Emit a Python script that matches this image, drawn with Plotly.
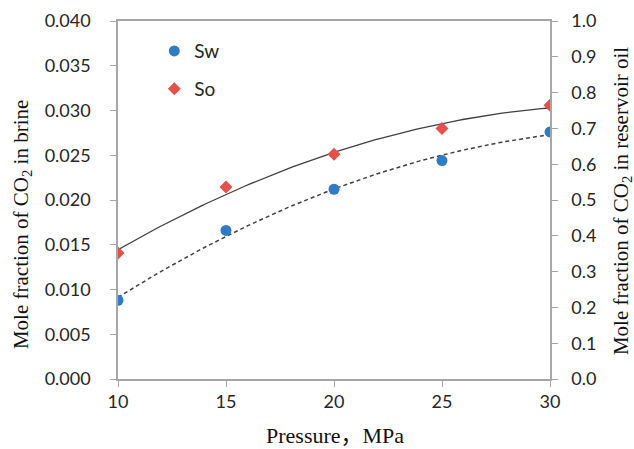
import numpy as np
import plotly.graph_objects as go

pressure = [10, 15, 20, 25, 30]
sw = [0.0088, 0.0166, 0.0212, 0.0244, 0.0276]
so = [0.352, 0.536, 0.628, 0.700, 0.765]

x_ticks = [10, 15, 20, 25, 30]

blue = "#2F7CC4"
red = "#E4504A"
axis_col = "#A6A6A6"
tick_font = dict(family="Lato, Open Sans, sans-serif", size=18, color="#262626")
serif = "Liberation Serif, Times New Roman, Noto Sans CJK SC, serif"

# quadratic trendlines (as in the original spreadsheet chart)
xf = np.linspace(min(pressure), max(pressure), 100)
sw_fit = np.polyval(np.polyfit(pressure, sw, 2), xf)
so_fit = np.polyval(np.polyfit(pressure, so, 2), xf)

fig = go.Figure()
fig.add_trace(go.Scatter(x=xf, y=sw_fit, mode="lines", showlegend=False,
                         line=dict(color="#404040", width=1.5, dash="4px,3px"),
                         hoverinfo="skip"))
fig.add_trace(go.Scatter(x=xf, y=so_fit, mode="lines", showlegend=False, yaxis="y2",
                         line=dict(color="#404040", width=1.3),
                         hoverinfo="skip"))
fig.add_trace(go.Scatter(x=pressure, y=sw, mode="markers", name="Sw",
                         marker=dict(color=blue, size=11, symbol="circle"),
                         legendgroup="a"))
fig.add_trace(go.Scatter(x=pressure, y=so, mode="markers", name="So", yaxis="y2",
                         marker=dict(color=red, size=10, symbol="diamond"),
                         legendgroup="b"))

fig.update_layout(
    width=634, height=449,
    margin=dict(l=118, r=84, t=21, b=70),
    paper_bgcolor="white", plot_bgcolor="white",
    showlegend=True,
    legend=dict(x=0.084, y=0.969, xanchor="left", yanchor="top",
                font=dict(family="Lato, Open Sans, sans-serif", size=19, color="#262626"),
                bgcolor="rgba(0,0,0,0)", tracegroupgap=10, itemwidth=30),
    xaxis=dict(range=[10, 30], tickvals=x_ticks, ticktext=[str(v) for v in x_ticks],
               showline=True, linecolor=axis_col, linewidth=1.5, mirror=True,
               ticks="outside", ticklen=6, tickcolor=axis_col, showgrid=False, zeroline=False,
               tickfont=tick_font, automargin=False),
    yaxis=dict(range=[0, 0.04], dtick=0.005, tickformat=".3f",
               showline=True, linecolor=axis_col, linewidth=1.5,
               ticks="outside", ticklen=6, tickcolor=axis_col, showgrid=False, zeroline=False,
               tickfont=tick_font, ticklabelstandoff=16, automargin=False),
    yaxis2=dict(range=[0, 1.0], dtick=0.1, tickformat=".1f", overlaying="y", side="right",
                showline=True, linecolor=axis_col, linewidth=1.5,
                ticks="outside", ticklen=6, tickcolor=axis_col, showgrid=False, zeroline=False,
                tickfont=tick_font, ticklabelstandoff=10, automargin=False),
    annotations=[
        dict(text="Mole fraction of CO<sub>2</sub> in brine", xref="paper", yref="paper",
             x=-0.2222, y=0.43, textangle=-90, showarrow=False, xanchor="center", yanchor="middle",
             font=dict(family=serif, size=21, color="#111111")),
        dict(text="Mole fraction of CO<sub>2</sub> in reservoir oil", xref="paper", yref="paper",
             x=1.1667, y=0.497, textangle=-90, showarrow=False, xanchor="center", yanchor="middle",
             font=dict(family=serif, size=21, color="#111111")),
        dict(text="Pressure，MPa", xref="paper", yref="paper",
             x=0.502, y=-0.158, showarrow=False, xanchor="center", yanchor="middle",
             font=dict(family=serif, size=22, color="#111111")),
    ],
)

# remove the page's default 8px body margin so the figure fills the window exactly
fig.write_html("out.html", config={"displayModeBar": False},
               post_script="document.body.style.margin='0px';")
